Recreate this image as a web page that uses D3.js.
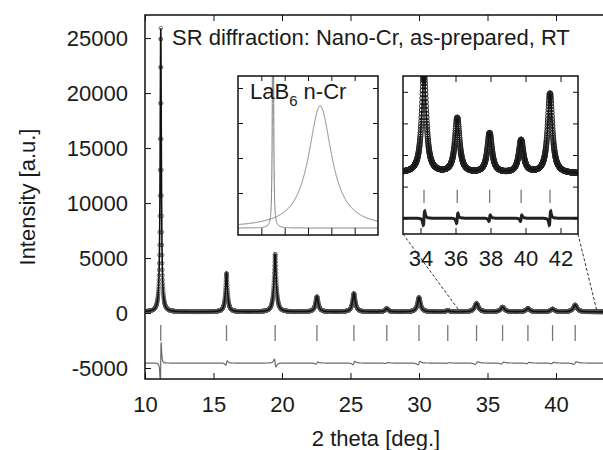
<html>
<head><meta charset="utf-8"></head>
<script src='https://d3js.org/d3.v7.min.js'></script>
<style>
body {margin:0; background:#fff;}
text {font-family:'Liberation Sans', Arial, sans-serif; fill:#1a1a1a;}
.tick line {stroke:#111;}
</style>
<body onload='init()'>
<svg width=603 height=450></svg>
<script>
// reflections (2theta, height above background, half width)
var peakPos    = [11.15, 15.95, 19.5, 22.55, 25.25, 27.65, 30.0, 32.1, 34.2, 36.1, 37.95, 39.75, 41.4]
var peakHeight = [25800, 3500, 5250, 1380, 1680, 300, 1320, 120, 780, 435, 316, 261, 633]
var peakWidth  = [0.05, 0.09, 0.1, 0.12, 0.12, 0.13, 0.13, 0.14, 0.16, 0.16, 0.16, 0.16, 0.16]
var diffAmp    = [1900, 200, -350, 100, 150, 40, 150, 30, 120, 90, 60, 60, 120]
var zoomDiffAmp = [0, 0, 0, 0, 0, 0, 0, 0, 55, 40, 25, 25, 55]
var background = 100
var xTicks = [10, 15, 20, 25, 30, 35, 40]
var yTicks = [-5000, 0, 5000, 10000, 15000, 20000, 25000]
var zoomTicks = [34, 36, 38, 40, 42]
var zoomYTicks = [-250, 0, 250, 500, 750]
// left inset: LaB6 standard line and nano-Cr line
var lineName   = ['LaB6', 'n-Cr']
var linePos    = [1.5, 3.52]
var lineHeight = [40, 3.49]
var lineWidth  = [0.01, 0.6]
var lineTicksX = [1, 2, 3, 4, 5]
var lineTicksY = [1, 2, 3, 4]

function lor(t, p, h, w) { var u = (t - p) / w; return h / (1 + u * u) }
function dlor(t, p, a, w) { var u = (t - p) / w; return a * (2 * u / ((1 + u * u) * (1 + u * u))) / 0.6495 }
function calc(t) {
  var s = background
  for (var i = 0; i < peakPos.length; i++) s += lor(t, peakPos[i], peakHeight[i], peakWidth[i])
  return s
}
function diff(t, amps, wscale) {
  var s = 0
  for (var i = 0; i < peakPos.length; i++) s += dlor(t, peakPos[i], amps[i], peakWidth[i] * wscale)
  return s
}
function num(d) { return d < 0 ? '-' + Math.abs(d) : '' + d }

function init() {
  var svg = d3.select('svg')
  var font = 22

  // ---------- main panel ----------
  var x = d3.scaleLinear().domain([10, 40]).range([145, 556])
  var y = d3.scaleLinear().domain([-6000, 27100]).range([379, 15])
  var x0 = 145, x1 = 612, yTop = 15, yBot = 379

  svg.append('clipPath').attr('id', 'cmain').append('rect')
    .attr('x', x0).attr('y', yTop).attr('width', x1 - x0).attr('height', yBot - yTop)
  var g = svg.append('g').attr('clip-path', 'url(#cmain)')

  var grid = d3.range(10, 43.7, 0.01)
  var diffOff = -4550
  g.append('path').datum(grid)
    .attr('d', d3.line().x(function(t){return x(t)}).y(function(t){return y(diffOff + diff(t, diffAmp, 1))}))
    .attr('fill', 'none').attr('stroke', '#6a6a6a').attr('stroke-width', 1.2)

  g.selectAll('line.ref').data(peakPos).enter().append('line').attr('class', 'ref')
    .attr('x1', function(d){return x(d)}).attr('x2', function(d){return x(d)})
    .attr('y1', y(-1100)).attr('y2', y(-2550))
    .attr('stroke', '#777').attr('stroke-width', 1.3)

  g.selectAll('circle').data(grid).enter().append('circle')
    .attr('cx', function(t){return x(t)}).attr('cy', function(t){return y(calc(t))})
    .attr('r', 1.8).attr('fill', 'none').attr('stroke', '#555').attr('stroke-width', 0.8)
  g.append('path').datum(grid)
    .attr('d', d3.line().x(function(t){return x(t)}).y(function(t){return y(calc(t))}))
    .attr('fill', 'none').attr('stroke', '#111').attr('stroke-width', 1.6)

  var ax = svg.append('g').attr('transform', 'translate(0,' + yBot + ')')
    .call(d3.axisBottom(x).tickValues(xTicks).tickSize(-6).tickPadding(17).tickFormat(num))
  ax.select('.domain').remove()
  var axt = svg.append('g').attr('transform', 'translate(0,' + yTop + ')')
    .call(d3.axisTop(x).tickValues(xTicks).tickSize(-6).tickFormat(''))
  axt.select('.domain').remove()
  var ay = svg.append('g').attr('transform', 'translate(' + x0 + ',0)')
    .call(d3.axisLeft(y).tickValues(yTicks).tickSize(-6).tickPadding(17).tickFormat(num))
  ay.select('.domain').remove()
  svg.selectAll('.tick text').style('font-size', font + 'px').attr('fill', '#1a1a1a')

  svg.append('rect').attr('x', x0).attr('y', yTop).attr('width', x1 - x0).attr('height', yBot - yTop)
    .attr('fill', 'none').attr('stroke', '#111').attr('stroke-width', 1.5)

  svg.append('text').attr('x', 172).attr('y', 45).style('font-size', font + 'px')
    .text('SR diffraction: Nano-Cr, as-prepared, RT')
  svg.append('text').attr('transform', 'translate(35,197) rotate(-90)').attr('text-anchor', 'middle')
    .style('font-size', font + 'px').text('Intensity [a.u.]')
  svg.append('text').attr('x', 376).attr('y', 446).attr('text-anchor', 'middle')
    .style('font-size', font + 'px').text('2 theta [deg.]')

  // ---------- right inset: zoom 33-43 deg ----------
  var zx = d3.scaleLinear().domain([33, 43]).range([403, 578])
  var zy = d3.scaleLinear().domain([-375, 875]).range([234, 76])
  svg.append('line').attr('x1', 403).attr('y1', 234).attr('x2', x(33)).attr('y2', y(background))
    .attr('stroke', '#333').attr('stroke-width', 1).attr('stroke-dasharray', '3,2')
  svg.append('line').attr('x1', 578).attr('y1', 234).attr('x2', x(43)).attr('y2', y(background))
    .attr('stroke', '#333').attr('stroke-width', 1).attr('stroke-dasharray', '3,2')

  svg.append('rect').attr('x', 403).attr('y', 76).attr('width', 175).attr('height', 158).attr('fill', '#fff')
  svg.append('clipPath').attr('id', 'czoom').append('rect')
    .attr('x', 403).attr('y', 76).attr('width', 175).attr('height', 158)
  var gz = svg.append('g').attr('clip-path', 'url(#czoom)')
  var zgrid = d3.range(33, 43.001, 0.01)
  gz.append('path').datum(zgrid)
    .attr('d', d3.line().x(function(t){return zx(t)}).y(function(t){return zy(-250 + diff(t, zoomDiffAmp, 0.4))}))
    .attr('fill', 'none').attr('stroke', '#222').attr('stroke-width', 3)
  gz.selectAll('line.ref').data(peakPos.filter(function(p){return p > 33})).enter().append('line')
    .attr('x1', function(d){return zx(d)}).attr('x2', function(d){return zx(d)})
    .attr('y1', zy(-25)).attr('y2', zy(-130))
    .attr('stroke', '#777').attr('stroke-width', 1.3)
  gz.selectAll('circle').data(zgrid).enter().append('circle')
    .attr('cx', function(t){return zx(t)}).attr('cy', function(t){return zy(calc(t))})
    .attr('r', 2.6).attr('fill', 'none').attr('stroke', '#222').attr('stroke-width', 1)
  gz.append('path').datum(zgrid)
    .attr('d', d3.line().x(function(t){return zx(t)}).y(function(t){return zy(calc(t))}))
    .attr('fill', 'none').attr('stroke', '#111').attr('stroke-width', 1.5)

  var zb = svg.append('g').attr('transform', 'translate(0,234)')
    .call(d3.axisBottom(zx).tickValues(zoomTicks).tickSize(-6).tickPadding(16).tickFormat(num))
  zb.select('.domain').remove()
  zb.selectAll('text').style('font-size', font + 'px')
  svg.append('g').attr('transform', 'translate(0,76)')
    .call(d3.axisTop(zx).tickValues(zoomTicks).tickSize(-6).tickFormat('')).select('.domain').remove()
  svg.append('g').attr('transform', 'translate(403,0)')
    .call(d3.axisLeft(zy).tickValues(zoomYTicks).tickSize(-5).tickFormat('')).select('.domain').remove()
  svg.append('g').attr('transform', 'translate(578,0)')
    .call(d3.axisRight(zy).tickValues(zoomYTicks).tickSize(-5).tickFormat('')).select('.domain').remove()
  svg.append('rect').attr('x', 403).attr('y', 76).attr('width', 175).attr('height', 158)
    .attr('fill', 'none').attr('stroke', '#111').attr('stroke-width', 1.5)

  // ---------- left inset: LaB6 vs n-Cr line width ----------
  var lx = d3.scaleLinear().domain([0, 6]).range([238, 378])
  var ly = d3.scaleLinear().domain([0, 4]).range([228, 88])
  svg.append('rect').attr('x', 238).attr('y', 76).attr('width', 140).attr('height', 159).attr('fill', '#fff')
  svg.append('clipPath').attr('id', 'cline').append('rect')
    .attr('x', 238).attr('y', 76).attr('width', 140).attr('height', 159)
  var gl = svg.append('g').attr('clip-path', 'url(#cline)')
  var lgrid = d3.range(0, 6.0001, 0.002)
  gl.selectAll('path.prof').data(linePos).enter().append('path').attr('class', 'prof')
    .attr('d', function(p, i) {
      return d3.line().x(function(t){return lx(t)})
        .y(function(t){return ly(lor(t, p, lineHeight[i], lineWidth[i]))})(lgrid)
    })
    .attr('fill', 'none').attr('stroke', '#7a7a7a').attr('stroke-width', 1)

  svg.append('g').attr('transform', 'translate(0,235)')
    .call(d3.axisBottom(lx).tickValues(lineTicksX).tickSize(-7).tickFormat('')).select('.domain').remove()
  svg.append('g').attr('transform', 'translate(0,76)')
    .call(d3.axisTop(lx).tickValues(lineTicksX).tickSize(-5).tickFormat('')).select('.domain').remove()
  svg.append('g').attr('transform', 'translate(238,0)')
    .call(d3.axisLeft(ly).tickValues(lineTicksY).tickSize(-5).tickFormat('')).select('.domain').remove()
  svg.append('g').attr('transform', 'translate(378,0)')
    .call(d3.axisRight(ly).tickValues(lineTicksY).tickSize(-5).tickFormat('')).select('.domain').remove()
  svg.append('rect').attr('x', 238).attr('y', 76).attr('width', 140).attr('height', 159)
    .attr('fill', 'none').attr('stroke', '#111').attr('stroke-width', 1.5)

  var lab = svg.append('text').attr('x', 250).attr('y', 99).style('font-size', font + 'px')
  lab.append('tspan').text('LaB')
  lab.append('tspan').attr('dy', 7).style('font-size', '15px').text('6')
  lab.append('tspan').attr('dy', -7).text(' ' + lineName[1])
}
</script>
</body>
</html>
